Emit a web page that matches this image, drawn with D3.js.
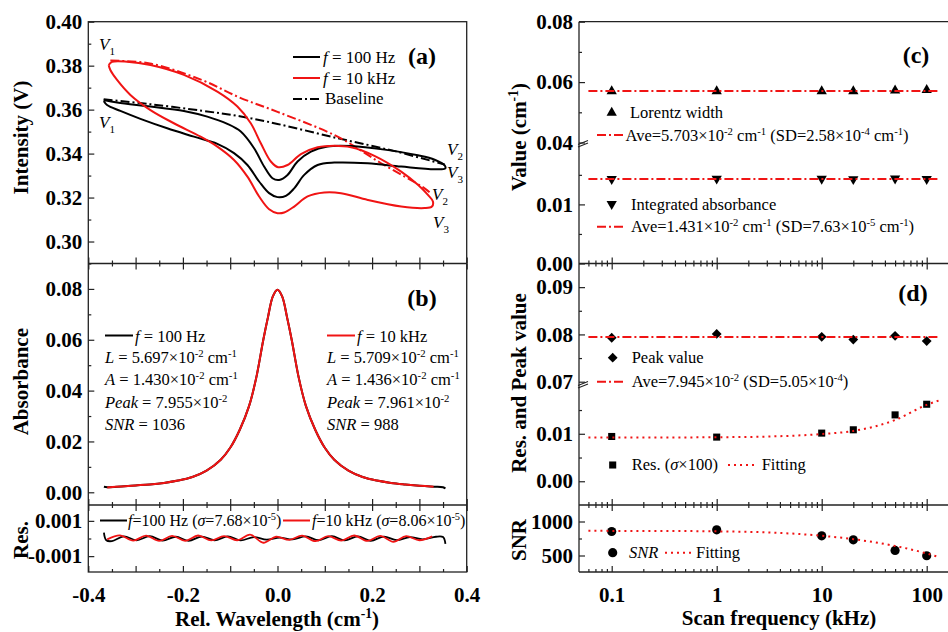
<!DOCTYPE html>
<html><head><meta charset="utf-8">
<script src="https://cdn.jsdelivr.net/npm/d3@7/dist/d3.min.js"></script>
<style>
body{margin:0;background:#fff}
svg{display:block}
text{white-space:pre}
</style></head><body>
<svg id="chart" width="948" height="632"></svg>
<script>
// ---------------- DATA ----------------
const blackLoopX = [-0.3675,-0.339,-0.2686,-0.1979,-0.1484,-0.106,-0.0777,-0.0495,-0.0283,-0.0106,0.0035,0.0212,0.0424,0.0707,0.106,0.1555,0.2261,0.2968,0.3322,0.3534,0.3548,0.3322,0.2615,0.1908,0.1201,0.0848,0.0565,0.0353,0.0177,0,-0.0177,-0.0389,-0.0636,-0.0919,-0.1272,-0.1767,-0.2332,-0.2898,-0.3322,-0.3604,-0.3675];
const blackLoopY = [0.3644,0.3632,0.3614,0.3594,0.3568,0.3535,0.350,0.3424,0.3341,0.3288,0.328,0.3303,0.3364,0.3409,0.3432,0.3434,0.3418,0.3392,0.3372,0.3346,0.3333,0.3329,0.3341,0.3356,0.3359,0.3348,0.3303,0.3242,0.3208,0.3202,0.322,0.3273,0.3348,0.3402,0.3444,0.3477,0.3515,0.3558,0.3594,0.3621,0.3639];
const redLoopX = [-0.3569,-0.3498,-0.318,-0.2686,-0.1979,-0.1272,-0.0848,-0.0565,-0.0353,-0.0141,0.0014,0.0212,0.0495,0.0848,0.1201,0.1555,0.2049,0.2615,0.2968,0.318,0.3286,0.3265,0.311,0.2615,0.1908,0.1343,0.0989,0.0636,0.0353,0.0141,0,-0.0177,-0.0389,-0.0636,-0.0919,-0.1272,-0.1625,-0.2191,-0.2686,-0.311,-0.3392,-0.3534,-0.3569];
const redLoopY = [0.3803,0.3817,0.3818,0.3803,0.3758,0.3682,0.3614,0.3538,0.3447,0.3364,0.3338,0.3348,0.3398,0.3429,0.3436,0.3429,0.3390,0.3318,0.3258,0.3212,0.3182,0.3159,0.3152,0.3159,0.3189,0.322,0.3223,0.3205,0.3159,0.3132,0.3129,0.3147,0.3205,0.3295,0.3371,0.3432,0.3477,0.3538,0.3598,0.3667,0.3735,0.378,0.3803];
const blackBaseX = [-0.3675,-0.27,-0.16,-0.08,0,0.127,0.25,0.3534];
const blackBaseY = [0.3647,0.3625,0.3595,0.357,0.3535,0.347,0.341,0.335];
const redBaseX = [-0.3534,-0.27,-0.16,-0.08,0,0.127,0.219,0.311,0.326];
const redBaseY = [0.3823,0.381,0.3735,0.3655,0.359,0.3477,0.3356,0.3242,0.3215];

const absBlackX = [-0.367,-0.36,-0.33,-0.30,-0.27,-0.24,-0.21,-0.18,-0.15,-0.12,-0.10,-0.08,-0.06,-0.045,-0.03,-0.02,-0.01,0,0.01,0.02,0.03,0.045,0.06,0.08,0.10,0.12,0.15,0.18,0.21,0.24,0.27,0.30,0.33,0.35,0.355];
const absBlackY = [0.0022,0.0020,0.0023,0.0027,0.0031,0.0037,0.0046,0.0060,0.0085,0.0128,0.0175,0.0245,0.0340,0.0450,0.0600,0.0690,0.0770,0.0797,0.0770,0.0690,0.0600,0.0450,0.0340,0.0245,0.0175,0.0128,0.0085,0.0060,0.0046,0.0037,0.0031,0.0026,0.0022,0.0020,0.0015];
const absRedX = [-0.36,-0.33,-0.30,-0.27,-0.24,-0.21,-0.18,-0.15,-0.12,-0.10,-0.08,-0.06,-0.045,-0.03,-0.02,-0.01,0,0.01,0.02,0.03,0.045,0.06,0.08,0.10,0.12,0.15,0.18,0.21,0.24,0.27,0.30,0.33];
const absRedY = [0.0019,0.0023,0.0027,0.0031,0.0037,0.0046,0.0060,0.0085,0.0128,0.0175,0.0245,0.0340,0.0450,0.0600,0.0690,0.0770,0.0797,0.0770,0.0690,0.0600,0.0450,0.0340,0.0245,0.0175,0.0128,0.0085,0.0060,0.0046,0.0037,0.0031,0.0026,0.0022];

const resBlackX = [-0.367,-0.362,-0.35,-0.325,-0.298,-0.27,-0.243,-0.215,-0.188,-0.16,-0.133,-0.105,-0.078,-0.05,-0.023,0.005,0.032,0.06,0.087,0.115,0.142,0.17,0.197,0.225,0.252,0.28,0.307,0.335,0.35,0.355];
const resBlackY = [3.3e-4,-1.0e-4,-1.5e-4,1.2e-4,-1.0e-4,1.3e-4,-1.2e-4,1.0e-4,-1.3e-4,1.1e-4,-1.0e-4,1.2e-4,-1.1e-4,0.8e-4,-0.6e-4,0.5e-4,-0.5e-4,1.2e-4,-1.0e-4,1.3e-4,-1.1e-4,1.2e-4,-1.3e-4,1.1e-4,-0.9e-4,0.8e-4,-0.5e-4,1.0e-4,0.8e-4,-3.0e-4];
const resRedX = [-0.36,-0.333,-0.305,-0.278,-0.25,-0.223,-0.195,-0.168,-0.14,-0.113,-0.085,-0.058,-0.03,-0.003,0.025,0.052,0.08,0.107,0.135,0.162,0.19,0.217,0.245,0.272,0.30,0.327];
const resRedY = [-0.5e-4,1.8e-4,-1.2e-4,1.6e-4,-1.4e-4,1.5e-4,-1.3e-4,1.7e-4,-1.1e-4,1.4e-4,-1.0e-4,2.2e-4,-2.4e-4,1.0e-4,-0.8e-4,1.6e-4,-1.5e-4,1.3e-4,-1.2e-4,1.7e-4,-1.4e-4,1.5e-4,-1.9e-4,1.3e-4,-1.0e-4,1.2e-4];

const freqs = [0.1, 1, 10, 20, 50, 100];
const lorentzWidth = [0.0570, 0.0570, 0.0570, 0.0570, 0.0572, 0.0574];
const lorentzAve = 0.05703;
const intAbs = [0.01430, 0.01436, 0.01434, 0.01428, 0.01438, 0.01430];
const intAbsAve = 0.01431;
const peakValue = [0.0793, 0.0801, 0.0795, 0.0789, 0.0797, 0.0786];
const peakAve = 0.07945;
const resSigma = [0.00943, 0.00930, 0.01014, 0.01084, 0.01398, 0.01622];
const fitX = [0.06, 0.1, 0.3, 1, 3, 10, 20, 50, 100, 130];
const resFitY = [0.00920, 0.00920, 0.00922, 0.00927, 0.00941, 0.00995, 0.0106, 0.0129, 0.0161, 0.0170];
const snr = [853, 878, 790, 731, 574, 496];
const snrFitY = [863, 862, 861, 855, 840, 790, 740, 640, 530, 478];
const aveLineX = [0.06, 130];

const ticksA = [0.30,0.32,0.34,0.36,0.38,0.40], minorA = [0.29,0.31,0.33,0.35,0.37,0.39];
const ticksB = [0.00,0.02,0.04,0.06,0.08], minorB = [0.01,0.03,0.05,0.07];
const ticksR = [-0.001,0.001], minorR = [0];
const ticksX = [-0.4,-0.2,0.0,0.2,0.4], majorX = [-0.4,-0.3,-0.2,-0.1,0,0.1,0.2,0.3,0.4], minorX = [-0.35,-0.25,-0.15,-0.05,0.05,0.15,0.25,0.35];
const ticksC = [0.00,0.01,0.04,0.06,0.08], minorC = [0.005,0.015,0.05,0.07];
const ticksD = [0.00,0.01,0.07,0.08,0.09], minorD = [0.005,0.015,0.075,0.085];
const ticksS = [500,1000], minorS = [750];
const ticksF = [0.1,1,10,100];
const minorF = [0.06,0.07,0.08,0.09,0.2,0.3,0.4,0.5,0.6,0.7,0.8,0.9,2,3,4,5,6,7,8,9,20,30,40,50,60,70,80,90];

// ---------------- DRAW ----------------
const FONT = "'Liberation Serif','Times New Roman',serif";
const RED = "#f01414";
const svg = d3.select("#chart").attr("font-family", FONT);

const L0 = 88.3, L1 = 466.7, R0 = 579, R1 = 950;
const yTop = 21.7, yAB = 263.5, yBR = 505, yBot = 572;

const x = d3.scaleLinear().domain([-0.4, 0.4]).range([L0, L1]);
const yA = d3.scaleLinear().domain([0.29, 0.40]).range([yAB, yTop]);
const yB = d3.scaleLinear().domain([-0.005, 0.09]).range([yBR, yAB]);
const yR = d3.scaleLinear().domain([-0.0019, 0.0019]).range([yBot, yBR]);
const xf = d3.scaleLog().domain([0.1, 100]).range([611.7, 926.7]);
const yC = d3.scaleLinear().domain([0, 0.02, 0.04, 0.08]).range([yAB, 145.3, 142.5, yTop]);
const yD = d3.scaleLinear().domain([-0.005, 0.02, 0.07, 0.095]).range([yBR, 386.3, 381.7, yAB]);
const yS = d3.scaleLinear().domain([250, 1250]).range([572.5, 504.5]);

function styleAxis(g, size) {
  g.attr("font-family", FONT).attr("font-size", size).attr("font-weight", "bold");
  g.select(".domain").remove();
  g.selectAll(".tick line").attr("stroke", "#222").attr("stroke-width", 1.2);
  g.selectAll(".tick text").attr("fill", "#000");
}
function yAxis(scale, xPos, majors, minors, fmt) {
  const g = svg.append("g").attr("transform", `translate(${xPos},0)`)
    .call(d3.axisLeft(scale).tickValues(majors).tickSize(-6).tickPadding(6).tickFormat(fmt));
  styleAxis(g, 21);
  const g2 = svg.append("g").attr("transform", `translate(${xPos},0)`)
    .call(d3.axisLeft(scale).tickValues(minors).tickSize(-3).tickFormat(""));
  styleAxis(g2, 21);
}
function xTicks(scale, yPos, majors, minors, dir, labels, fmt) {
  const mk = dir === "up" ? d3.axisBottom : d3.axisTop;
  const g = svg.append("g").attr("transform", `translate(0,${yPos})`)
    .call(mk(scale).tickValues(majors).tickSize(-6).tickPadding(15).tickFormat(labels ? fmt : ""));
  styleAxis(g, 21);
  if (labels) g.selectAll(".tick text").text(d => labels.includes(d) ? fmt(d) : "");
  const g2 = svg.append("g").attr("transform", `translate(0,${yPos})`)
    .call(mk(scale).tickValues(minors).tickSize(-3).tickFormat(""));
  styleAxis(g2, 21);
}

function rich(g, xp, yp, segs, size, anchor) {
  const t = g.append("text").attr("x", xp).attr("y", yp).attr("font-size", size)
    .attr("font-family", FONT).attr("text-anchor", anchor || "start").attr("fill", "#000");
  let shift = 0;
  segs.forEach(s => {
    const txt = typeof s === "string" ? s : s[0];
    const st = typeof s === "string" ? "" : s[1];
    const sp = t.append("tspan").text(txt);
    let target = 0;
    if (st.includes("^")) { target = -0.38 * size; sp.attr("font-size", size * 0.65); }
    if (st.includes("_")) { target = 0.28 * size; sp.attr("font-size", size * 0.65); }
    if (target !== shift) { sp.attr("dy", target - shift); shift = target; }
    if (st.includes("i")) sp.attr("font-style", "italic");
  });
  return t;
}

const zipXY = (xs, ys) => xs.map((v, i) => [v, ys[i]]);

// ===== panel (a) =====
const lineA = d3.line().x(d => x(d[0])).y(d => yA(d[1])).curve(d3.curveCatmullRom.alpha(0.5));
svg.append("path").attr("d", lineA(zipXY(blackBaseX, blackBaseY))).attr("fill", "none")
  .attr("stroke", "#000").attr("stroke-width", 2).attr("stroke-dasharray", "9,3,2,3");
svg.append("path").attr("d", lineA(zipXY(redBaseX, redBaseY))).attr("fill", "none")
  .attr("stroke", RED).attr("stroke-width", 2).attr("stroke-dasharray", "9,3,2,3");
svg.append("path").attr("d", lineA(zipXY(blackLoopX, blackLoopY))).attr("fill", "none")
  .attr("stroke", "#000").attr("stroke-width", 2);
svg.append("path").attr("d", lineA(zipXY(redLoopX, redLoopY))).attr("fill", "none")
  .attr("stroke", RED).attr("stroke-width", 2);

const vl = svg.append("g");
rich(vl, 99, 50, [["V", "i"], ["1", "_"]], 17);
rich(vl, 99, 128, [["V", "i"], ["1", "_"]], 17);
rich(vl, 447, 155, [["V", "i"], ["2", "_"]], 17);
rich(vl, 447, 178, [["V", "i"], ["3", "_"]], 17);
rich(vl, 432, 200, [["V", "i"], ["2", "_"]], 17);
rich(vl, 433, 228, [["V", "i"], ["3", "_"]], 17);

const lgA = svg.append("g");
lgA.append("line").attr("x1", 293).attr("x2", 320).attr("y1", 57).attr("y2", 57).attr("stroke", "#000").attr("stroke-width", 2);
rich(lgA, 323, 63, [["f", "i"], " = 100 Hz"], 17);
lgA.append("line").attr("x1", 293).attr("x2", 320).attr("y1", 78).attr("y2", 78).attr("stroke", RED).attr("stroke-width", 2);
rich(lgA, 323, 84, [["f", "i"], " = 10 kHz"], 17);
lgA.append("line").attr("x1", 293).attr("x2", 321).attr("y1", 99).attr("y2", 99).attr("stroke", "#000").attr("stroke-width", 2).attr("stroke-dasharray", "9,3,2,3");
rich(lgA, 325, 104, ["Baseline"], 17);
svg.append("text").attr("x", 422).attr("y", 64).attr("text-anchor", "middle").attr("font-size", 24).attr("font-weight", "bold").text("(a)");

// ===== panel (b) =====
const lineB = d3.line().x(d => x(d[0])).y(d => yB(d[1])).curve(d3.curveCatmullRom.alpha(0.5));
svg.append("path").attr("d", lineB(zipXY(absBlackX, absBlackY))).attr("fill", "none").attr("stroke", "#000").attr("stroke-width", 2);
svg.append("path").attr("d", lineB(zipXY(absRedX, absRedY))).attr("fill", "none").attr("stroke", RED).attr("stroke-width", 2);
const lgB = svg.append("g");
lgB.append("line").attr("x1", 105).attr("x2", 133).attr("y1", 335.5).attr("y2", 335.5).attr("stroke", "#000").attr("stroke-width", 2);
rich(lgB, 135, 341.5, [["f", "i"], " = 100 Hz"], 16.5);
rich(lgB, 105, 363, [["L", "i"], " = 5.697×10", ["-2", "^"], " cm", ["-1", "^"]], 16.5);
rich(lgB, 105, 385, [["A", "i"], " = 1.430×10", ["-2", "^"], " cm", ["-1", "^"]], 16.5);
rich(lgB, 105, 408, [["Peak", "i"], " = 7.955×10", ["-2", "^"]], 16.5);
rich(lgB, 105, 430, [["SNR", "i"], " = 1036"], 16.5);
lgB.append("line").attr("x1", 327).attr("x2", 355).attr("y1", 335.5).attr("y2", 335.5).attr("stroke", RED).attr("stroke-width", 2);
rich(lgB, 357, 341.5, [["f", "i"], " = 10 kHz"], 16.5);
rich(lgB, 327, 363, [["L", "i"], " = 5.709×10", ["-2", "^"], " cm", ["-1", "^"]], 16.5);
rich(lgB, 327, 385, [["A", "i"], " = 1.436×10", ["-2", "^"], " cm", ["-1", "^"]], 16.5);
rich(lgB, 327, 408, [["Peak", "i"], " = 7.961×10", ["-2", "^"]], 16.5);
rich(lgB, 327, 430, [["SNR", "i"], " = 988"], 16.5);
svg.append("text").attr("x", 422).attr("y", 306).attr("text-anchor", "middle").attr("font-size", 24).attr("font-weight", "bold").text("(b)");

// ===== residual panel =====
const lineR = d3.line().x(d => x(d[0])).y(d => yR(d[1])).curve(d3.curveCatmullRom.alpha(0.5));
svg.append("path").attr("d", lineR(zipXY(resBlackX, resBlackY))).attr("fill", "none").attr("stroke", "#000").attr("stroke-width", 1.8);
svg.append("path").attr("d", lineR(zipXY(resRedX, resRedY))).attr("fill", "none").attr("stroke", RED).attr("stroke-width", 1.8);
const lgR = svg.append("g");
lgR.append("line").attr("x1", 100).attr("x2", 127).attr("y1", 520.5).attr("y2", 520.5).attr("stroke", "#000").attr("stroke-width", 2);
rich(lgR, 128, 526, [["f", "i"], "=100 Hz (", ["σ", "i"], "=7.68×10", ["-5", "^"], ")"], 16);
lgR.append("line").attr("x1", 283).attr("x2", 310).attr("y1", 520.5).attr("y2", 520.5).attr("stroke", RED).attr("stroke-width", 2);
rich(lgR, 312, 526, [["f", "i"], "=10 kHz (", ["σ", "i"], "=8.06×10", ["-5", "^"], ")"], 16);

yAxis(yA, L0, ticksA, minorA, d => d.toFixed(2));
yAxis(yB, L0, ticksB, minorB, d => d.toFixed(2));
yAxis(yR, L0, ticksR, minorR, d => d.toFixed(3));
xTicks(x, yAB, majorX, minorX, "up", null);
xTicks(x, yAB, majorX, minorX, "down", null);
xTicks(x, yBR, majorX, minorX, "up", null);
xTicks(x, yBR, majorX, minorX, "down", null);
xTicks(x, yBot, majorX, minorX, "up", ticksX, d => d.toFixed(1));

const fr = svg.append("g").attr("stroke", "#222").attr("stroke-width", 1.3).attr("fill", "none");
fr.append("rect").attr("x", L0).attr("y", yTop).attr("width", L1 - L0).attr("height", yBot - yTop);
fr.append("line").attr("x1", L0).attr("x2", L1).attr("y1", yAB).attr("y2", yAB);
fr.append("line").attr("x1", L0).attr("x2", L1).attr("y1", yBR).attr("y2", yBR);

function vTitle(xp, yp, segs) {
  const g = svg.append("g").attr("transform", `translate(${xp},${yp}) rotate(-90)`);
  rich(g, 0, 0, segs, 21, "middle").attr("font-weight", "bold");
}
vTitle(28, 137.5, ["Intensity (V)"]);
vTitle(27.5, 381.7, ["Absorbance"]);
vTitle(27.5, 540, ["Res."]);
rich(svg, 277, 626, ["Rel. Wavelength (cm", ["-1", "^"], ")"], 21, "middle").attr("font-weight", "bold");

// ===== panel (c) =====
const sym = (type, size) => d3.symbol().type(type).size(size)();
const gC = svg.append("g");
gC.selectAll(".lw").data(freqs).join("path").attr("d", sym(d3.symbolTriangle, 46))
  .attr("transform", (d, i) => `translate(${xf(d)},${yC(lorentzWidth[i])})`).attr("fill", "#000");
gC.selectAll(".ia").data(freqs).join("path").attr("d", sym(d3.symbolTriangle, 46))
  .attr("transform", (d, i) => `translate(${xf(d)},${yC(intAbs[i])}) rotate(180)`).attr("fill", "#000");
const aveLine = (sc, v) => d3.line().x(d => xf(d)).y(() => sc(v))(aveLineX);
gC.append("path").attr("d", aveLine(yC, lorentzAve)).attr("stroke", RED).attr("stroke-width", 2).attr("stroke-dasharray", "9,3,2,3").attr("fill", "none");
gC.append("path").attr("d", aveLine(yC, intAbsAve)).attr("stroke", RED).attr("stroke-width", 2).attr("stroke-dasharray", "9,3,2,3").attr("fill", "none");
gC.append("path").attr("d", sym(d3.symbolTriangle, 46)).attr("transform", "translate(611.7,112.7)");
rich(gC, 630, 118, ["Lorentz width"], 16.5);
gC.append("line").attr("x1", 597).attr("x2", 624).attr("y1", 135).attr("y2", 135).attr("stroke", RED).attr("stroke-width", 2).attr("stroke-dasharray", "9,3,2,3");
rich(gC, 625.5, 141, ["Ave=5.703×10", ["-2", "^"], " cm", ["-1", "^"], " (SD=2.58×10", ["-4", "^"], " cm", ["-1", "^"], ")"], 16.5);
gC.append("path").attr("d", sym(d3.symbolTriangle, 46)).attr("transform", "translate(611.7,204) rotate(180)");
rich(gC, 631, 210, ["Integrated absorbance"], 16.5);
gC.append("line").attr("x1", 597).attr("x2", 624).attr("y1", 226.7).attr("y2", 226.7).attr("stroke", RED).attr("stroke-width", 2).attr("stroke-dasharray", "9,3,2,3");
rich(gC, 631, 232, ["Ave=1.431×10", ["-2", "^"], " cm", ["-1", "^"], " (SD=7.63×10", ["-5", "^"], " cm", ["-1", "^"], ")"], 16.5);
svg.append("text").attr("x", 916).attr("y", 63).attr("text-anchor", "middle").attr("font-size", 24).attr("font-weight", "bold").text("(c)");

// ===== panel (d) =====
const gD = svg.append("g");
gD.selectAll(".pv").data(freqs).join("path").attr("d", sym(d3.symbolSquare, 48))
  .attr("transform", (d, i) => `translate(${xf(d)},${yD(peakValue[i])}) rotate(45)`).attr("fill", "#000");
gD.selectAll(".rs").data(freqs).join("path").attr("d", sym(d3.symbolSquare, 50))
  .attr("transform", (d, i) => `translate(${xf(d)},${yD(resSigma[i])})`).attr("fill", "#000");
gD.append("path").attr("d", aveLine(yD, peakAve)).attr("stroke", RED).attr("stroke-width", 2).attr("stroke-dasharray", "9,3,2,3").attr("fill", "none");
const fitLineD = d3.line().x(d => xf(d[0])).y(d => yD(d[1])).curve(d3.curveMonotoneX);
gD.append("path").attr("d", fitLineD(zipXY(fitX, resFitY))).attr("stroke", RED).attr("stroke-width", 2).attr("stroke-dasharray", "2,4").attr("fill", "none");
gD.append("path").attr("d", sym(d3.symbolSquare, 48)).attr("transform", "translate(612.7,357.7) rotate(45)");
rich(gD, 631.7, 363, ["Peak value"], 16.5);
gD.append("line").attr("x1", 597).attr("x2", 624).attr("y1", 381.7).attr("y2", 381.7).attr("stroke", RED).attr("stroke-width", 2).attr("stroke-dasharray", "9,3,2,3");
rich(gD, 631.7, 387, ["Ave=7.945×10", ["-2", "^"], " (SD=5.05×10", ["-4", "^"], ")"], 16.5);
gD.append("path").attr("d", sym(d3.symbolSquare, 50)).attr("transform", "translate(612.7,465)");
rich(gD, 631.7, 470, ["Res. (", ["σ", "i"], "×100)"], 16.5);
gD.append("line").attr("x1", 728).attr("x2", 758).attr("y1", 465).attr("y2", 465).attr("stroke", RED).attr("stroke-width", 2).attr("stroke-dasharray", "2,4");
rich(gD, 761.7, 470, ["Fitting"], 16.5);
svg.append("text").attr("x", 913).attr("y", 301).attr("text-anchor", "middle").attr("font-size", 24).attr("font-weight", "bold").text("(d)");

// ===== SNR panel =====
const gS = svg.append("g");
gS.selectAll(".sn").data(freqs).join("circle").attr("cx", d => xf(d)).attr("cy", (d, i) => yS(snr[i])).attr("r", 4.6).attr("fill", "#000");
const fitLineS = d3.line().x(d => xf(d[0])).y(d => yS(d[1])).curve(d3.curveMonotoneX);
gS.append("path").attr("d", fitLineS(zipXY(fitX, snrFitY))).attr("stroke", RED).attr("stroke-width", 2).attr("stroke-dasharray", "2,4").attr("fill", "none");
gS.append("circle").attr("cx", 612.7).attr("cy", 552.7).attr("r", 4.6).attr("fill", "#000");
rich(gS, 629, 558, [["SNR", "i"]], 16.5);
gS.append("line").attr("x1", 665).attr("x2", 693).attr("y1", 552.7).attr("y2", 552.7).attr("stroke", RED).attr("stroke-width", 2).attr("stroke-dasharray", "2,4");
rich(gS, 696, 558, ["Fitting"], 16.5);

yAxis(yC, R0, ticksC, minorC, d => d.toFixed(2));
yAxis(yD, R0, ticksD, minorD, d => d.toFixed(2));
yAxis(yS, R0, ticksS, minorS, d => String(d));
xTicks(xf, yAB, ticksF, minorF, "up", null);
xTicks(xf, yAB, ticksF, minorF, "down", null);
xTicks(xf, yBR, ticksF, minorF, "up", null);
xTicks(xf, yBR, ticksF, minorF, "down", null);
xTicks(xf, yBot, ticksF, minorF, "up", ticksF, d => String(d));

const fr2 = svg.append("g").attr("stroke", "#222").attr("stroke-width", 1.3).attr("fill", "none");
fr2.append("line").attr("x1", R0).attr("x2", R0).attr("y1", yTop).attr("y2", yBot);
[yTop, yAB, yBR, yBot].forEach(yy => fr2.append("line").attr("x1", R0).attr("x2", R1).attr("y1", yy).attr("y2", yy));
[142.9, 384].forEach(yy => {
  fr2.append("line").attr("x1", 578).attr("x2", 588).attr("y1", yy + 1.5).attr("y2", yy - 2.5).attr("stroke-width", 1.1);
  fr2.append("line").attr("x1", 578).attr("x2", 588).attr("y1", yy + 4).attr("y2", yy).attr("stroke-width", 1.1);
});

vTitle(526, 137, ["Value (cm", ["-1", "^"], ")"]);
vTitle(525.5, 383, ["Res. and Peak value"]);
vTitle(525.5, 540, ["SNR"]);
rich(svg, 779, 625, ["Scan frequency (kHz)"], 21, "middle").attr("font-weight", "bold");
</script>
</body></html>
